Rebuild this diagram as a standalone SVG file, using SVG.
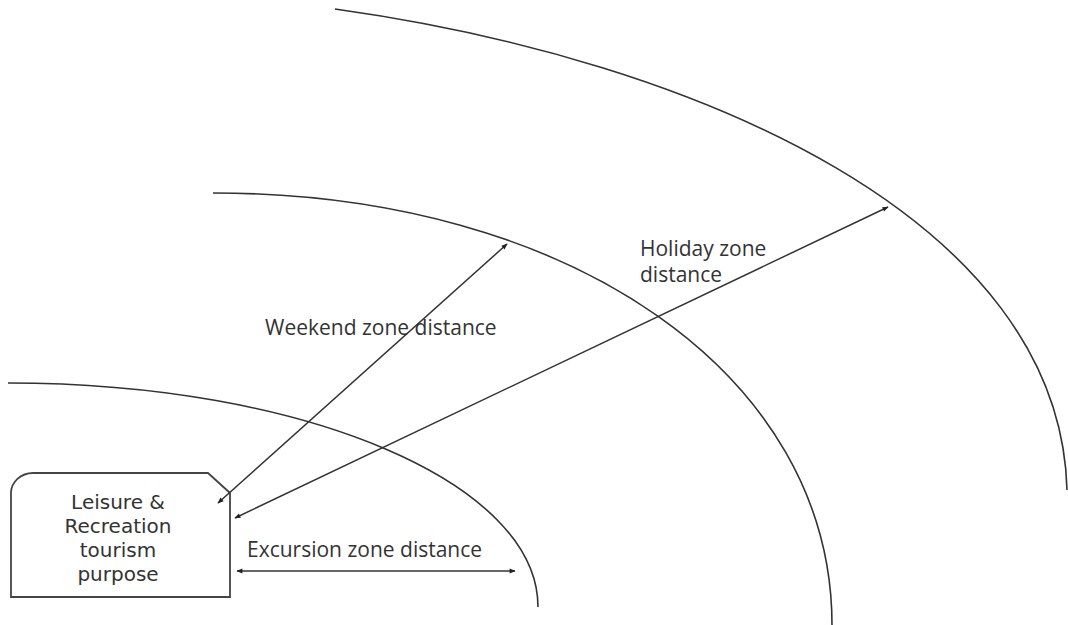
<svg xmlns="http://www.w3.org/2000/svg" width="1068" height="625" viewBox="0 0 1068 625">
<style>
.arc{fill:none;stroke:#333;stroke-width:1.6}
.con{fill:none;stroke:#333;stroke-width:1.5;marker-start:url(#ah);marker-end:url(#ah)}
.box{fill:#fff;stroke:#444;stroke-width:1.8}
text{font-family:"Open Sans","DejaVu Sans",sans-serif;fill:#333}
.lbl{font-size:21px}
.bt{font-family:"DejaVu Sans",sans-serif;font-size:20px;text-anchor:middle}
</style>
<defs>
<marker id="ah" viewBox="0 0 10 10" refX="9" refY="5" markerWidth="9" markerHeight="6" markerUnits="userSpaceOnUse" orient="auto-start-reverse">
<path d="M0,1 L10,5 L0,9 Z" fill="#222"/>
</marker>
</defs>
<rect width="1068" height="625" fill="#fff"/>
<g id="zones">
<path id="excursion-zone" class="arc" d="M8,383 C305,383 538,483 538,607"/>
<path id="weekend-zone" class="arc" d="M213,193 C572,193 832,376 832,625"/>
<path id="holiday-zone" class="arc" d="M335,9 C700,60 1060,220 1067,490"/>
</g>
<g id="origin">
<path class="box" d="M11,597 L11,493 A22,20 0 0 1 33,473 L208,473 L230,493 L230,597 Z"/>
<text class="bt" x="118" y="509"><tspan x="118" y="509">Leisure &amp;</tspan><tspan x="118" y="533">Recreation</tspan><tspan x="118" y="557">tourism</tspan><tspan x="118" y="581">purpose</tspan></text>
</g>
<g id="connectors">
<line class="con" x1="218" y1="503" x2="507" y2="244"/>
<line class="con" x1="235" y1="518" x2="888" y2="207"/>
<line class="con" x1="237" y1="571" x2="515" y2="571"/>
</g>
<g id="labels">
<text class="lbl" x="265" y="335">Weekend zone distance</text>
<text class="lbl" x="640" y="256"><tspan x="640" y="256">Holiday zone</tspan><tspan x="640" y="282">distance</tspan></text>
<text class="lbl" x="247" y="557">Excursion zone distance</text>
</g>
</svg>
